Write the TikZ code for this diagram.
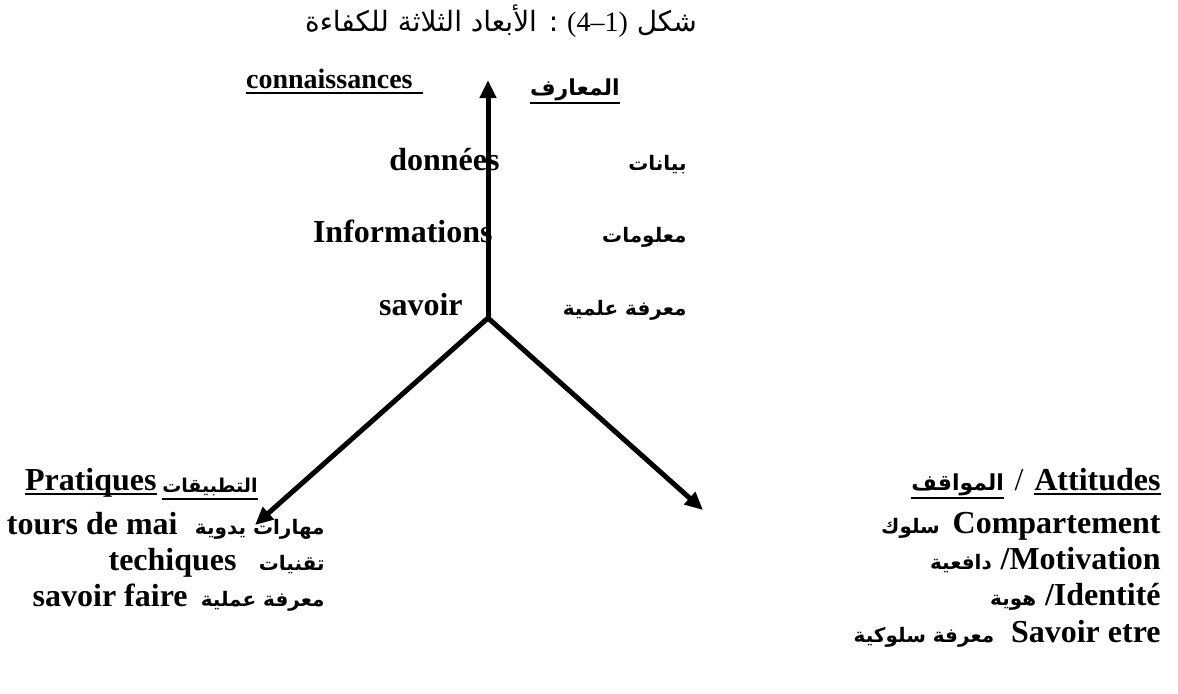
\documentclass[tikz,border=0pt]{standalone}
\usepackage{fontspec}
\setmainfont{Liberation Serif}
\newfontfamily\arabicfont[Script=Arabic]{DejaVu Sans}
\TeXXeTstate=1
\usetikzlibrary{arrows.meta,positioning}
\tikzset{
  frlbl/.style={inner sep=0pt, font=\fontsize{16}{19}\selectfont\bfseries},
  frhead/.style={inner sep=0pt, font=\fontsize{14}{17}\selectfont\bfseries},
  arlbl/.style={inner sep=0pt, font=\fontsize{10}{13}\selectfont\arabicfont\bfseries},
  arhead/.style={inner sep=0pt, font=\fontsize{11}{14}\selectfont\arabicfont\bfseries},
  axisline/.style={line width=2.5pt},
  axistip/.style={-{Triangle[length=9pt,width=8pt]}},
  uline/.style={line width=1pt}
}
\newcommand{\artxt}[1]{\beginR #1\endR}

\begin{document}
\begin{tikzpicture}[x=0.5pt,y=-0.5pt]
\useasboundingbox (0,0) rectangle (1178,693);
% title
\node[inner sep=0pt, anchor=base, font=\fontsize{14}{17}\selectfont\arabicfont] (title) at (501,31)
  {\beginR شكل \beginL{\rmfamily(4–1)}\endL{} : الأبعاد الثلاثة للكفاءة\endR};

% knowledge axis
\node[frhead, anchor=base east] (connK) at (413,88) {connaissances};
\node[arhead, anchor=base east] (arK) at (620,95) {\artxt{المعارف}};
\node[frlbl, anchor=base east] (donK) at (500,170) {données};
\node[arlbl, anchor=base east] (arDon) at (687,170) {\artxt{بيانات}};
\node[frlbl, anchor=base east] (infK) at (493,242) {Informations};
\node[arlbl, anchor=base east] (arInf) at (687,242) {\artxt{معلومات}};
\node[frlbl, anchor=base east] (savK) at (463,315) {savoir};
\node[arlbl, anchor=base east] (arSavK) at (687,315) {\artxt{معرفة علمية}};

% practice axis
\node[frlbl, anchor=base east] (pratP) at (157,490) {Pratiques};
\node[arlbl, font=\fontsize{9.5}{12}\selectfont\arabicfont\bfseries, anchor=base east] (arPrat) at (258,492) {\artxt{التطبيقات}};
\node[frlbl, anchor=base east] (toursP) at (178,534) {tours de mai};
\node[arlbl, anchor=base east] (arTours) at (325,534) {\artxt{مهارات يدوية}};
\node[frlbl, anchor=base east] (techP) at (237,570) {techiques};
\node[arlbl, anchor=base east] (arTech) at (325,570) {\artxt{تقنيات}};
\node[frlbl, anchor=base east] (savP) at (188,606) {savoir faire};
\node[arlbl, anchor=base east] (arSavP) at (325,606) {\artxt{معرفة عملية}};

% attitude axis
\node[frlbl, anchor=base east] (attA) at (1161,490) {Attitudes};
\node[inner sep=0pt, font=\fontsize{16}{19}\selectfont, base left=5pt of attA] (slashA) {/};
\node[arhead, base left=5pt of slashA] (arAtt) {\artxt{المواقف}};
\node[frlbl, anchor=base east] (compA) at (1161,533) {Compartement};
\node[arlbl, base left=6pt of compA] (arComp) {\artxt{سلوك}};
\node[frlbl, anchor=base east] (motA) at (1161,569) {/Motivation};
\node[arlbl, base left=4pt of motA] (arMot) {\artxt{دافعية}};
\node[frlbl, anchor=base east] (idA) at (1161,605) {/Identité};
\node[arlbl, base left=4pt of idA] (arId) {\artxt{هوية}};
\node[frlbl, anchor=base east] (savA) at (1161,642) {Savoir etre};
\node[arlbl, base left=8pt of savA] (arSavA) {\artxt{معرفة سلوكية}};

% underlines
\draw[uline] ([yshift=-2.5pt]connK.base west) -- ([yshift=-2.5pt,xshift=5pt]connK.base east);
\draw[uline] ([yshift=-4pt]arK.base west) -- ([yshift=-4pt]arK.base east);
\draw[uline] ([yshift=-2pt]pratP.base west) -- ([yshift=-2pt]pratP.base east);
\draw[uline] ([yshift=-3.5pt]arPrat.base west) -- ([yshift=-3.5pt]arPrat.base east);
\draw[uline] ([yshift=-2pt]attA.base west) -- ([yshift=-2pt]attA.base east);
\draw[uline] ([yshift=-4pt]arAtt.base west) -- ([yshift=-4pt]arAtt.base east);

% the three axes
\coordinate (origin) at (488,318);
\coordinate (tipK) at (488,80);
\coordinate (tipP) at (255,525);
\coordinate (tipA) at (703,510);
\draw[axisline, axistip] (origin) -- (tipK);
\draw[axisline, {Triangle[length=9pt,width=8pt]}-{Triangle[length=9pt,width=8pt]}] (tipP) -- (origin) -- (tipA);
\end{tikzpicture}
\end{document}
